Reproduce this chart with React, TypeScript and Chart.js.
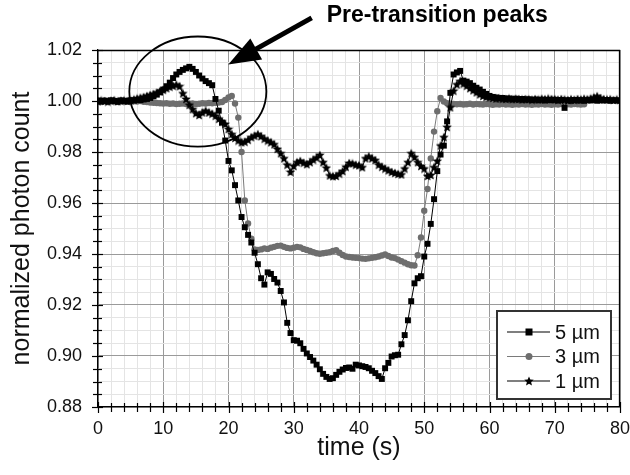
import { useEffect, useRef } from 'react';
import { Chart, registerables } from 'chart.js';

Chart.register(...registerables);

const FONT = "'Liberation Sans', Arial, Helvetica, sans-serif";

// Sampling interval of the photon-count traces (seconds)
const TIME_STEP = 0.5;

// Normalized photon count, 5 µm particles (t = 0 … 80 s, every 0.5 s)
const count5um = [
  1.0002, 0.9998, 1.0001, 0.9999, 1.0003, 1.0000, 0.9997, 1.0002, 1.0001, 0.9999,
  1.0003, 1.0002, 1.0004, 1.0003, 1.0006, 1.0008, 1.0012, 1.0018, 1.0025, 1.0034,
  1.0045, 1.0058, 1.0072, 1.0090, 1.0104, 1.0114, 1.0122, 1.0128, 1.0134, 1.0126,
  1.0114, 1.0100, 1.0088, 1.0078, 1.0070, 1.0062, 1.0008, 0.9962, 0.9915, 0.9845,
  0.9765, 0.9728, 0.9670, 0.9610, 0.9545, 0.9505, 0.9475, 0.9445, 0.9405, 0.9360,
  0.9305, 0.9280, 0.9328, 0.9322, 0.9302, 0.9288, 0.9255, 0.9210, 0.9130, 0.9090,
  0.9062, 0.9060, 0.9050, 0.9028, 0.9010, 0.8996, 0.8982, 0.8966, 0.8948, 0.8930,
  0.8918, 0.8910, 0.8913, 0.8926, 0.8938, 0.8947, 0.8953, 0.8955, 0.8950, 0.8966,
  0.8963, 0.8960, 0.8957, 0.8952, 0.8942, 0.8933, 0.8921, 0.8910, 0.8952, 0.8973,
  0.8998, 0.9003, 0.9005, 0.9046, 0.9082, 0.9140, 0.9215, 0.9285, 0.9305, 0.9313,
  0.9390, 0.9440, 0.9518, 0.9615, 0.9725, 0.9790, 0.9825, 0.9920, 1.0032, 1.0104,
  1.0112, 1.0118, 1.0080, 1.0076, 1.0070, 1.0060, 1.0052, 1.0045, 1.0036, 1.0028,
  1.0020, 1.0016, 1.0014, 1.0011, 1.0012, 1.0009, 1.0010, 1.0007, 1.0009, 1.0006,
  1.0008, 1.0005, 1.0007, 1.0004, 1.0006, 1.0003, 1.0005, 1.0002, 1.0004, 1.0003,
  1.0005, 1.0002, 1.0004, 0.9973, 1.0003, 1.0001, 1.0004, 1.0002, 1.0003, 1.0001,
  1.0003, 1.0002, 1.0004, 1.0001, 1.0003, 1.0002, 1.0004, 1.0001, 1.0003, 1.0002,
  1.0002,
];

// Normalized photon count, 3 µm particles (recording stops after 74.5 s)
const count3um = [
  1.0001, 0.9999, 1.0002, 0.9998, 1.0000, 1.0001, 0.9999, 1.0002, 1.0000, 0.9998,
  1.0001, 0.9999, 0.9998, 1.0000, 0.9997, 0.9996, 0.9994, 0.9993, 0.9992, 0.9991,
  0.9990, 0.9991, 0.9989, 0.9990, 0.9988, 0.9989, 0.9990, 0.9988, 0.9989, 0.9990,
  0.9988, 0.9989, 0.9991, 0.9990, 0.9992, 0.9991, 0.9993, 0.9994, 0.9996, 1.0004,
  1.0014, 1.0020, 0.9990, 0.9935, 0.9800, 0.9610, 0.9520, 0.9460, 0.9418, 0.9416,
  0.9418, 0.9422, 0.9420, 0.9425, 0.9428, 0.9432, 0.9433, 0.9428, 0.9424, 0.9422,
  0.9425, 0.9428, 0.9426, 0.9420, 0.9416, 0.9412, 0.9407, 0.9403, 0.9401, 0.9403,
  0.9405, 0.9407, 0.9412, 0.9415, 0.9405, 0.9396, 0.9390, 0.9388, 0.9386, 0.9385,
  0.9384, 0.9382, 0.9381, 0.9383, 0.9385, 0.9387, 0.9390, 0.9394, 0.9398, 0.9392,
  0.9386, 0.9384, 0.9378, 0.9372, 0.9366, 0.9360, 0.9356, 0.9355, 0.9395, 0.9465,
  0.9570, 0.9655, 0.9775, 0.9880, 0.9960, 1.0012, 0.9998, 0.9991, 0.9989, 0.9988,
  0.9987, 0.9988, 0.9986, 0.9987, 0.9989, 0.9986, 0.9988, 0.9987, 0.9986, 0.9988,
  0.9987, 0.9985, 0.9987, 0.9986, 0.9988, 0.9986, 0.9987, 0.9985, 0.9987, 0.9986,
  0.9988, 0.9986, 0.9987, 0.9985, 0.9987, 0.9986, 0.9988, 0.9986, 0.9987, 0.9985,
  0.9987, 0.9986, 0.9988, 0.9986, 0.9987, 0.9986, 0.9988, 0.9987, 0.9986, 0.9987,
  null, null, null, null, null, null, null, null, null, null,
  null,
];

// Normalized photon count, 1 µm particles
const count1um = [
  0.9999, 1.0002, 1.0000, 0.9998, 1.0001, 1.0003, 0.9999, 1.0001, 1.0002, 1.0000,
  1.0002, 1.0006, 1.0010, 1.0013, 1.0016, 1.0020, 1.0024, 1.0028, 1.0033, 1.0038,
  1.0044, 1.0050, 1.0056, 1.0060, 1.0064, 1.0058, 1.0030, 1.0008, 0.9985, 0.9968,
  0.9952, 0.9945, 0.9955, 0.9962, 0.9955, 0.9950, 0.9942, 0.9930, 0.9920, 0.9910,
  0.9890, 0.9870, 0.9855, 0.9845, 0.9838, 0.9840, 0.9848, 0.9858, 0.9864, 0.9870,
  0.9862, 0.9852, 0.9845, 0.9838, 0.9830, 0.9812, 0.9795, 0.9775, 0.9750, 0.9722,
  0.9745, 0.9760, 0.9765, 0.9758, 0.9752, 0.9760, 0.9770, 0.9778, 0.9788, 0.9760,
  0.9738, 0.9708, 0.9705, 0.9706, 0.9715, 0.9725, 0.9742, 0.9757, 0.9755, 0.9750,
  0.9748, 0.9740, 0.9775, 0.9783, 0.9775, 0.9768, 0.9750, 0.9742, 0.9735, 0.9728,
  0.9722, 0.9718, 0.9714, 0.9712, 0.9735, 0.9760, 0.9795, 0.9780, 0.9760, 0.9745,
  0.9735, 0.9706, 0.9710, 0.9740, 0.9765, 0.9825, 0.9858, 0.9898, 0.9975, 1.0040,
  1.0065, 1.0078, 1.0068, 1.0060, 1.0050, 1.0042, 1.0034, 1.0026, 1.0020, 1.0016,
  1.0014, 1.0012, 1.0010, 1.0011, 1.0009, 1.0008, 1.0010, 1.0007, 1.0009, 1.0008,
  1.0006, 1.0008, 1.0007, 1.0005, 1.0008, 1.0006, 1.0009, 1.0007, 1.0010, 1.0008,
  1.0007, 1.0005, 1.0008, 1.0006, 1.0004, 1.0007, 1.0005, 1.0008, 1.0006, 1.0009,
  1.0007, 1.0010, 1.0014, 1.0019, 1.0012, 1.0008, 1.0006, 1.0007, 1.0004, 1.0006,
  1.0005,
];

const seriesLabels = ['5 \u00b5m', '3 \u00b5m', '1 \u00b5m'];

// Axis ranges and tick spacing
const X_RANGE = [0, 80];
const X_MAJOR = 10;
const X_MINOR = 2;
const Y_RANGE = [0.88, 1.02];
const Y_MAJOR = 0.02;
const Y_MINOR = 0.005;

// Annotation around the pre-transition peaks (data units)
const HIGHLIGHT = { t: 15.3, v: 1.0037, rt: 10.5, rv: 0.0216 };
const ARROW = { fromT: 32.75, fromV: 1.0326, toT: 19.97, toV: 1.0143 };
const ANNOTATION_TEXT = 'Pre-transition peaks';

const isMultiple = (v: number, step: number) => Math.abs(v / step - Math.round(v / step)) < 1e-6;

const toPoints = (values: (number | null)[]) =>
  values.map((y, i) => ({ x: i * TIME_STEP, y }));

function makeStar(size: number, color: string) {
  const c = document.createElement('canvas');
  c.width = size;
  c.height = size;
  const g = c.getContext('2d')!;
  const cx = size / 2;
  const cy = size / 2 + 0.4;
  const R = size / 2;
  const r = R * 0.45;
  g.beginPath();
  for (let k = 0; k < 10; k++) {
    const ang = -Math.PI / 2 + (k * Math.PI) / 5;
    const rad = k % 2 === 0 ? R : r;
    g.lineTo(cx + rad * Math.cos(ang), cy + rad * Math.sin(ang));
  }
  g.closePath();
  g.fillStyle = color;
  g.fill();
  return c;
}

const frameAndTicks = {
  id: 'frameAndTicks',
  afterDraw(chart: any) {
    const { ctx, chartArea: a, scales } = chart;
    ctx.save();
    ctx.strokeStyle = '#000';
    ctx.lineWidth = 1.3;
    ctx.beginPath();
    ctx.moveTo(a.left, a.top + 0.5);
    ctx.lineTo(a.right - 0.5, a.top + 0.5);
    ctx.lineTo(a.right - 0.5, a.bottom);
    ctx.stroke();
    ctx.lineWidth = 1.2;
    for (const t of scales.x.ticks) {
      const px = Math.round(scales.x.getPixelForValue(t.value)) + 0.5;
      const major = isMultiple(t.value, X_MAJOR);
      ctx.beginPath();
      ctx.moveTo(px, a.bottom - (major ? 5 : 4));
      ctx.lineTo(px, a.bottom + (major ? 6 : 5));
      ctx.stroke();
    }
    for (const t of scales.y.ticks) {
      const py = Math.round(scales.y.getPixelForValue(t.value)) + 0.5;
      const major = isMultiple(t.value, Y_MAJOR);
      ctx.beginPath();
      ctx.moveTo(a.left - (major ? 6 : 5), py);
      ctx.lineTo(a.left + (major ? 5 : 4), py);
      ctx.stroke();
    }
    ctx.restore();
  },
};

const annotation = {
  id: 'annotation',
  afterDraw(chart: any) {
    const { ctx, scales } = chart;
    const { x, y } = scales;
    ctx.save();
    // ellipse around the peaks
    const cx = x.getPixelForValue(HIGHLIGHT.t);
    const cy = y.getPixelForValue(HIGHLIGHT.v);
    const rx = x.getPixelForValue(HIGHLIGHT.t + HIGHLIGHT.rt) - cx;
    const ry = cy - y.getPixelForValue(HIGHLIGHT.v + HIGHLIGHT.rv);
    ctx.strokeStyle = '#000';
    ctx.lineWidth = 1.8;
    ctx.beginPath();
    ctx.ellipse(cx, cy, rx, ry, 0, 0, Math.PI * 2);
    ctx.stroke();

    // arrow
    const x0 = x.getPixelForValue(ARROW.fromT);
    const y0 = y.getPixelForValue(ARROW.fromV);
    const x1 = x.getPixelForValue(ARROW.toT);
    const y1 = y.getPixelForValue(ARROW.toV);
    const len = Math.hypot(x1 - x0, y1 - y0);
    const ux = (x1 - x0) / len;
    const uy = (y1 - y0) / len;
    const headLen = 32;
    const headHalf = 12;
    const bx = x1 - ux * headLen;
    const by = y1 - uy * headLen;
    ctx.lineWidth = 5;
    ctx.lineCap = 'butt';
    ctx.beginPath();
    ctx.moveTo(x0, y0);
    ctx.lineTo(bx + ux * 2, by + uy * 2);
    ctx.stroke();
    ctx.fillStyle = '#000';
    ctx.beginPath();
    ctx.moveTo(x1, y1);
    ctx.lineTo(bx - uy * headHalf, by + ux * headHalf);
    ctx.lineTo(bx + uy * headHalf, by - ux * headHalf);
    ctx.closePath();
    ctx.fill();

    // annotation text
    ctx.font = `bold 23px ${FONT}`;
    ctx.textAlign = 'left';
    ctx.textBaseline = 'middle';
    ctx.fillText(ANNOTATION_TEXT, x0 + 15, 16);
    ctx.restore();
  },
};

const boxedLegend = {
  id: 'boxedLegend',
  afterDraw(chart: any) {
    const { ctx, chartArea: a } = chart;
    const w = 114;
    const h = 88;
    const left = a.right - 123;
    const top = a.bottom - 96;
    ctx.save();
    ctx.fillStyle = '#fff';
    ctx.fillRect(left, top, w, h);
    ctx.strokeStyle = '#333';
    ctx.lineWidth = 2;
    ctx.strokeRect(left, top, w, h);
    chart.data.datasets.forEach((ds: any, i: number) => {
      const cy = top + 21 + i * 24.5;
      ctx.strokeStyle = ds.borderColor;
      ctx.lineWidth = 1.2;
      ctx.beginPath();
      ctx.moveTo(left + 10, cy);
      ctx.lineTo(left + 53, cy);
      ctx.stroke();
      const mx = left + 32;
      ctx.fillStyle = ds.pointBackgroundColor;
      if (ds.pointStyle === 'rect') {
        ctx.fillRect(mx - 3.5, cy - 3.5, 7, 7);
      } else if (ds.pointStyle === 'circle') {
        ctx.beginPath();
        ctx.arc(mx, cy, 3.5, 0, Math.PI * 2);
        ctx.fill();
      } else {
        const img = ds.pointStyle as HTMLCanvasElement;
        ctx.drawImage(img, mx - img.width / 2, cy - img.height / 2);
      }
      ctx.fillStyle = '#111';
      ctx.font = `20px ${FONT}`;
      ctx.textAlign = 'left';
      ctx.textBaseline = 'middle';
      ctx.fillText(ds.label, left + 58, cy + 1);
    });
    ctx.restore();
  },
};

export default function App() {
  const canvasRef = useRef<HTMLCanvasElement | null>(null);

  useEffect(() => {
    const canvas = canvasRef.current;
    if (!canvas) return;
    const star = makeStar(10, '#000');

    const gridColor = (step: number) => (c: any) =>
      c.tick && isMultiple(c.tick.value, step) ? '#9a9a9a' : '#e4e4e4';

    const chart = new Chart(canvas, {
      type: 'line',
      data: {
        datasets: [
          {
            label: seriesLabels[0],
            data: toPoints(count5um),
            borderColor: '#000',
            borderWidth: 1,
            pointStyle: 'rect',
            pointRadius: 4.2,
            pointBackgroundColor: '#000',
            pointBorderColor: '#000',
            pointBorderWidth: 0,
            order: 0,
          },
          {
            label: seriesLabels[1],
            data: toPoints(count3um),
            borderColor: '#7a7a7a',
            borderWidth: 1,
            pointStyle: 'circle',
            pointRadius: 3.2,
            pointBackgroundColor: '#6e6e6e',
            pointBorderColor: '#6e6e6e',
            pointBorderWidth: 0,
            order: 2,
          },
          {
            label: seriesLabels[2],
            data: toPoints(count1um),
            borderColor: '#000',
            borderWidth: 1,
            pointStyle: star as any,
            pointRadius: 4,
            pointBackgroundColor: '#000',
            pointBorderColor: '#000',
            order: 1,
          },
        ] as any,
      },
      options: {
        responsive: false,
        animation: false,
        devicePixelRatio: 1,
        events: [],
        layout: { padding: { top: 50, right: 10, bottom: 10, left: 0 } },
        plugins: { legend: { display: false }, tooltip: { enabled: false } },
        elements: { line: { tension: 0 } },
        scales: {
          x: {
            type: 'linear',
            min: X_RANGE[0],
            max: X_RANGE[1],
            afterFit: (s: any) => {
              s.height = 58;
              s.paddingLeft = 0;
              s.paddingRight = 0;
            },
            ticks: {
              stepSize: X_MINOR,
              autoSkip: false,
              maxRotation: 0,
              maxTicksLimit: 100,
              padding: 11,
              color: '#111',
              font: { family: FONT, size: 18 },
              callback: (v: any) => (isMultiple(Number(v), X_MAJOR) ? String(Math.round(Number(v))) : ''),
            },
            grid: { drawTicks: false, color: gridColor(X_MAJOR), lineWidth: 1 },
            border: { display: true, color: '#000', width: 1.3 },
            title: {
              display: true,
              text: 'time (s)',
              color: '#111',
              font: { family: FONT, size: 25 },
              padding: { top: 0, bottom: 2 },
            },
          },
          y: {
            type: 'linear',
            min: Y_RANGE[0],
            max: Y_RANGE[1],
            afterFit: (s: any) => {
              s.width = 98;
              s.paddingTop = 0;
              s.paddingBottom = 0;
            },
            ticks: {
              stepSize: Y_MINOR,
              autoSkip: false,
              maxTicksLimit: 100,
              padding: 16,
              color: '#111',
              font: { family: FONT, size: 18 },
              callback: (v: any) => (isMultiple(Number(v), Y_MAJOR) ? Number(v).toFixed(2) : ''),
            },
            grid: { drawTicks: false, color: gridColor(Y_MAJOR), lineWidth: 1 },
            border: { display: true, color: '#000', width: 1.3 },
            title: {
              display: true,
              text: 'normalized photon count',
              color: '#111',
              font: { family: FONT, size: 25 },
              padding: { top: 7, bottom: 0 },
            },
          },
        },
      } as any,
      plugins: [frameAndTicks, annotation, boxedLegend],
    });

    return () => chart.destroy();
  }, []);

  return (
    <div style={{ position: 'absolute', left: 0, top: 0, width: 630, height: 475, background: '#fff' }}>
      <canvas ref={canvasRef} width={630} height={475} style={{ display: 'block' }} />
    </div>
  );
}
